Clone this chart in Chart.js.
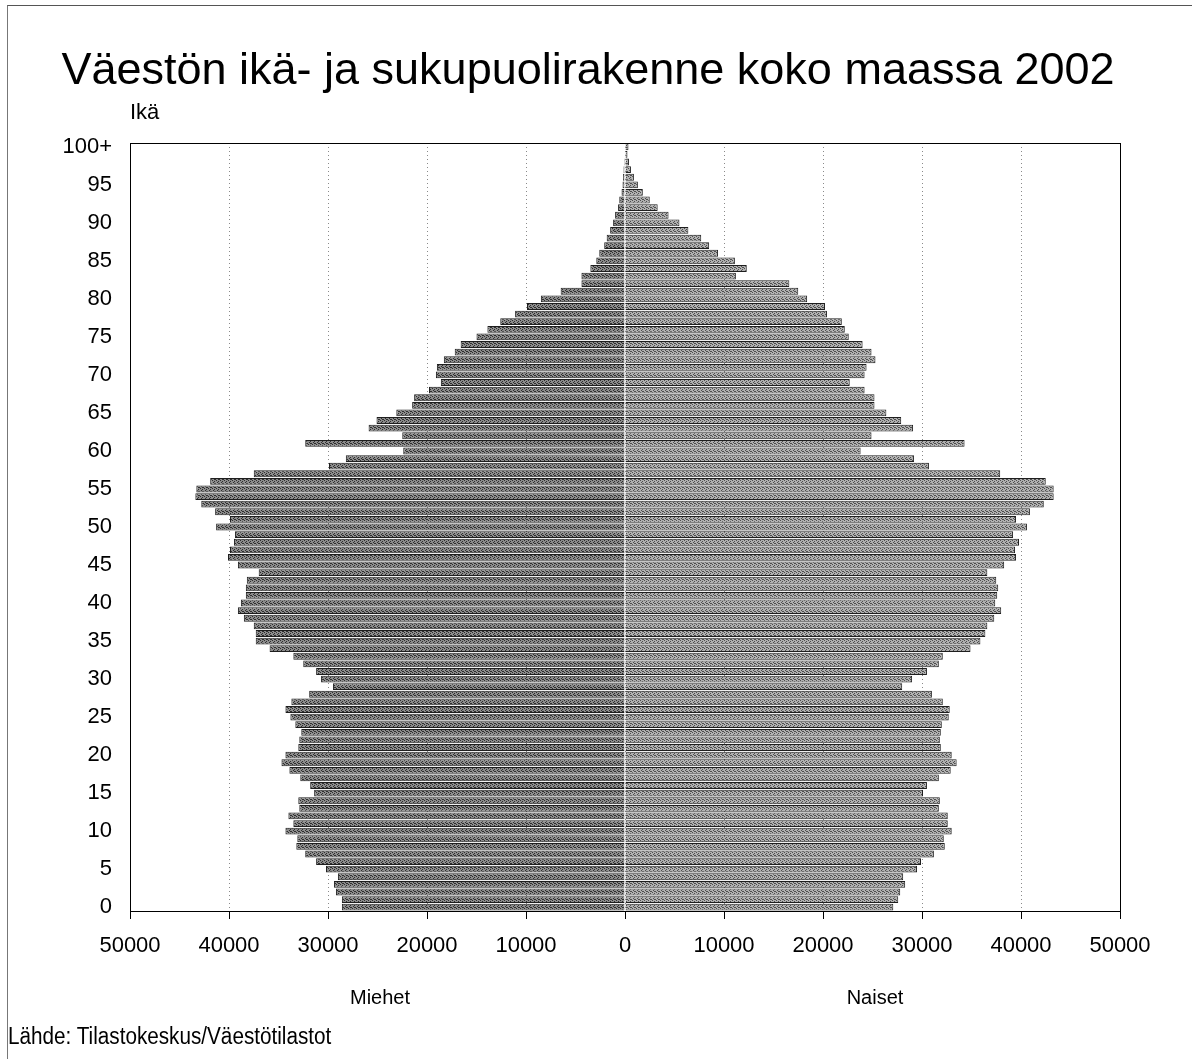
<!DOCTYPE html>
<html>
<head>
<meta charset="utf-8">
<script src="https://cdn.jsdelivr.net/npm/chart.js@4.4.1/dist/chart.umd.min.js"></script>
<style>
  html, body { margin: 0; padding: 0; background: #fff; }
  body { width: 1192px; height: 1059px; position: relative; overflow: hidden;
         font-family: 'Liberation Sans', Arial, sans-serif; color: #000; }
  #wrap { position: absolute; left: 0; top: 0; width: 1192px; height: 1059px; }
  .frame { position: absolute; left: 7px; top: 5px; right: -2px; bottom: -2px;
           border-top: 1px solid #555; border-left: 1px solid #777; }
  .txt { position: absolute; white-space: nowrap; }
  #title { left: 0; width: 1176px; text-align: center; top: 46px; font-size: 45px; line-height: 45px; }
  #ika { left: 130px; top: 101px; font-size: 22px; line-height: 22px; }
  #miehet { left: 330px; width: 100px; text-align: center; top: 987px; font-size: 20px; line-height: 20px; }
  #naiset { left: 825px; width: 100px; text-align: center; top: 987px; font-size: 20px; line-height: 20px; }
  #lahde { left: 8px; top: 1025px; font-size: 23px; line-height: 23px; transform-origin: 0 0; transform: scaleX(0.9); }
</style>
</head>
<body>
<div class="frame"></div>
<div id="wrap"><canvas id="pyramidChart"></canvas></div>
<div class="txt" id="title">Väestön ikä- ja sukupuolirakenne koko maassa 2002</div>
<div class="txt" id="ika">Ikä</div>
<div class="txt" id="miehet">Miehet</div>
<div class="txt" id="naiset">Naiset</div>
<div class="txt" id="lahde">Lähde: Tilastokeskus/Väestötilastot</div>
<script>
// Ikäluokat 0 ... 99 ja 100+
const ages = [];
for (let i = 0; i < 100; i++) ages.push(String(i));
ages.push('100+');

// Miehet (ikä 0 -> 100+)
const men = [
    28600, 28600, 29200, 29400, 29000, 30200, 31200, 32300, 33200, 33100,
    34300, 33500, 34000, 32900, 33000, 31400, 31800, 32800, 33900, 34700,
    34300, 33000, 32900, 32700, 33300, 33800, 34300, 33700, 31900, 29500,
    30700, 31200, 32500, 33500, 35900, 37300, 37300, 37500, 38500, 39100,
    38800, 38300, 38300, 38200, 37000, 39100, 40100, 39900, 39500, 39400,
    41300, 39900, 41400, 42800, 43400, 43300, 41900, 37500, 29900, 28200,
    22400, 32300, 22500, 25900, 25100, 23100, 21500, 21300, 19800, 18600,
    19100, 19000, 18300, 17200, 16600, 15000, 13900, 12600, 11100, 9900,
    8500, 6500, 4400, 4400, 3500, 2900, 2600, 2100, 1850, 1500,
    1200, 1000, 700, 580, 350, 250, 200, 150, 100, 60,
    50
];

// Naiset (ikä 0 -> 100+)
const women = [
    27100, 27600, 27800, 28300, 28100, 29500, 29900, 31200, 32300, 32200,
    33000, 32600, 32600, 31700, 31800, 30100, 30500, 31700, 32900, 33500,
    33000, 31900, 31800, 31900, 32000, 32700, 32800, 32100, 31000, 28000,
    29000, 30500, 31700, 32100, 34900, 35900, 36400, 36600, 37300, 38000,
    37400, 37600, 37700, 37500, 36600, 38300, 39500, 39400, 39800, 39200,
    40600, 39500, 40900, 42300, 43300, 43300, 42500, 37900, 30700, 29200,
    23800, 34300, 24900, 29100, 27900, 26400, 25200, 25200, 24200, 22700,
    24200, 24400, 25300, 24900, 24000, 22600, 22200, 21900, 20400, 20200,
    18400, 17500, 16600, 11200, 12300, 11100, 9400, 8500, 7700, 6400,
    5500, 4400, 3300, 2500, 1800, 1300, 900, 600, 400, 250,
    350
];

const xTicks = [-50000, -40000, -30000, -20000, -10000, 0, 10000, 20000, 30000, 40000, 50000];

// rasterikuvio pylväille
function makePattern(base, dot) {
    const c = document.createElement('canvas');
    c.width = 4;
    c.height = 4;
    const g = c.getContext('2d');
    g.fillStyle = base;
    g.fillRect(0, 0, 4, 4);
    g.fillStyle = dot;
    g.fillRect(0, 0, 1, 1);
    g.fillRect(2, 1, 1, 1);
    g.fillRect(1, 2, 1, 1);
    g.fillRect(3, 3, 1, 1);
    g.fillRect(2, 3, 1, 1);
    return g.createPattern(c, 'repeat');
}

const framePlugin = {
    id: 'frame',
    afterDraw(chart) {
        const a = chart.chartArea;
        const ctx = chart.ctx;
        ctx.save();
        ctx.strokeStyle = '#000';
        ctx.lineWidth = 1;
        ctx.strokeRect(Math.round(a.left) + 0.5, Math.round(a.top) + 0.5,
            Math.round(a.width), Math.round(a.height));
        ctx.restore();
    }
};

const ctx = document.getElementById('pyramidChart').getContext('2d');
new Chart(ctx, {
    type: 'bar',
    data: {
        labels: ages,
        datasets: [{
            label: 'Miehet',
            data: men.map(v => -v),
            backgroundColor: makePattern('#8c8c8c', '#2e2e2e'),
            borderColor: '#1e1e1e',
            borderWidth: 1,
            barPercentage: 0.9,
            categoryPercentage: 1
        }, {
            label: 'Naiset',
            data: women,
            backgroundColor: makePattern('#b0b0b0', '#4e4e4e'),
            borderColor: '#1e1e1e',
            borderWidth: 1,
            barPercentage: 0.9,
            categoryPercentage: 1
        }]
    },
    options: {
        indexAxis: 'y',
        responsive: true,
        maintainAspectRatio: false,
        animation: false,
        layout: { padding: { left: 0, top: 143, right: 72, bottom: 98 } },
        plugins: {
            legend: { display: false },
            tooltip: { enabled: false }
        },
        scales: {
            x: {
                stacked: true,
                min: -50000,
                max: 50000,
                afterBuildTicks: scale => { scale.ticks = xTicks.map(v => ({ value: v })); },
                afterFit: scale => { scale.height = 50; },
                grid: {
                    color: '#8a8a8a',
                    tickColor: '#000',
                    tickLength: 8,
                    tickBorderDash: []
                },
                border: { display: true, color: '#000', dash: [1, 3] },
                ticks: {
                    color: '#000',
                    padding: 14,
                    maxRotation: 0,
                    font: { family: "'Liberation Sans', Arial, sans-serif", size: 22 },
                    callback: v => String(Math.abs(v))
                }
            },
            y: {
                stacked: true,
                reverse: true,
                afterFit: scale => { scale.width = 130; },
                grid: { display: false, drawTicks: false },
                border: { display: true, color: '#000' },
                ticks: {
                    color: '#000',
                    padding: 18,
                    autoSkip: false,
                    font: { family: "'Liberation Sans', Arial, sans-serif", size: 22 },
                    callback: function (v, i) { return i % 5 === 0 ? ages[i] : ''; }
                }
            }
        }
    },
    plugins: [framePlugin]
});
</script>
</body>
</html>
